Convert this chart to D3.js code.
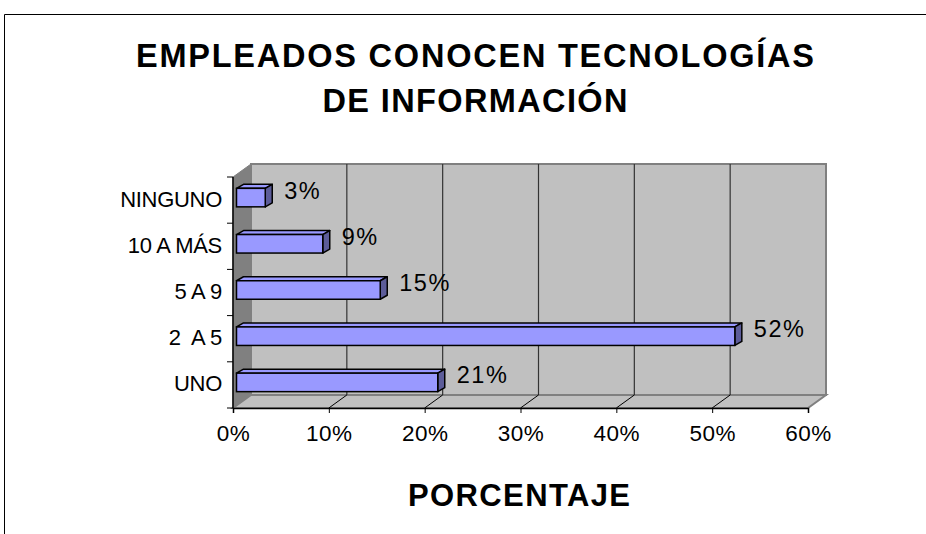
<!DOCTYPE html>
<html>
<head>
<meta charset="utf-8">
<script src="https://cdn.jsdelivr.net/npm/d3@7"></script>
<style>
  body { margin: 0; background: #fff; }
  text { font-family: Arial, "Liberation Sans", sans-serif; fill: #000; }
</style>
</head>
<body>
<svg id="chart" width="926" height="534"></svg>
<script>
'use strict';

// data, bottom to top as in the original sheet
var categories = ["UNO", "2  A 5", "5 A 9", "10 A MÁS", "NINGUNO"];
var values = [21, 52, 15, 9, 3];
var tickValues = [0, 10, 20, 30, 40, 50, 60];
var titleLines = ["EMPLEADOS CONOCEN TECNOLOGÍAS", "DE INFORMACIÓN"];
var axisTitle = "PORCENTAJE";

var svg = d3.select("#chart");

// outer frame (only top and left edges show)
svg.append("path")
  .attr("d", "M4.5,534 V14.5 H926")
  .attr("fill", "none")
  .attr("stroke", "#000")
  .attr("stroke-width", 1);

var x = d3.scaleLinear().domain([0, 60]).range([233, 808]);
var y = d3.scaleBand().domain(categories).range([408, 177]);

var depth = { dx: 18, dy: -13 };
var x0 = x(0), x1 = x(60), yTop = 177, yBot = 408;

var pts = function(arr) {
  return arr.map(function(p) { return p.join(","); }).join(" ");
};

// back wall
svg.append("rect")
  .attr("x", x0 + depth.dx)
  .attr("y", yTop + depth.dy)
  .attr("width", x1 - x0)
  .attr("height", yBot - yTop)
  .attr("fill", "#c0c0c0")
  .attr("stroke", "#808080")
  .attr("stroke-width", 2);

// side wall
svg.append("polygon")
  .attr("points", pts([[x0, yTop], [x0 + depth.dx, yTop + depth.dy],
                       [x0 + depth.dx, yBot + depth.dy], [x0, yBot]]))
  .attr("fill", "#808080")
  .attr("stroke", "#808080");

// floor
svg.append("polygon")
  .attr("points", pts([[x0, yBot], [x0 + depth.dx, yBot + depth.dy],
                       [x1 + depth.dx, yBot + depth.dy], [x1, yBot]]))
  .attr("fill", "#c0c0c0")
  .attr("stroke", "#808080")
  .attr("stroke-width", 2);

// grid lines on the back wall
svg.selectAll(".grid")
  .data(tickValues.slice(1, -1))
.enter().append("line")
  .attr("class", "grid")
  .attr("x1", function(d) { return x(d) + depth.dx; })
  .attr("x2", function(d) { return x(d) + depth.dx; })
  .attr("y1", yTop + depth.dy)
  .attr("y2", yBot + depth.dy)
  .attr("stroke", "#333")
  .attr("stroke-width", 1.2);

// floor diagonals
svg.selectAll(".floorTick")
  .data(tickValues.slice(1, -1))
.enter().append("line")
  .attr("class", "floorTick")
  .attr("x1", function(d) { return x(d); })
  .attr("x2", function(d) { return x(d) + depth.dx; })
  .attr("y1", yBot)
  .attr("y2", yBot + depth.dy)
  .attr("stroke", "#000")
  .attr("stroke-width", 1);

// x axis
var xAxis = d3.axisBottom(x)
  .tickValues(tickValues)
  .tickSize(5)
  .tickPadding(12)
  .tickFormat(function(d) { return d + "%"; });

var gx = svg.append("g")
  .attr("transform", "translate(0," + yBot + ")")
  .call(xAxis);
gx.select(".domain").attr("stroke", "#000").attr("stroke-width", 1.5);
gx.selectAll(".tick line").attr("stroke", "#000");
gx.selectAll(".tick text")
  .attr("font-family", "Arial, 'Liberation Sans', sans-serif")
  .attr("font-size", 22.5)
  .attr("letter-spacing", 0.5)
  .attr("fill", "#000");

// y axis: line plus ticks at band edges
svg.append("line")
  .attr("x1", x0).attr("x2", x0)
  .attr("y1", yTop).attr("y2", yBot)
  .attr("stroke", "#000").attr("stroke-width", 1.5);

var edges = categories.map(function(c) { return y(c); }).concat([yBot]);
svg.selectAll(".yTick")
  .data(edges)
.enter().append("line")
  .attr("class", "yTick")
  .attr("x1", x0 - 6).attr("x2", x0)
  .attr("y1", function(d) { return d; })
  .attr("y2", function(d) { return d; })
  .attr("stroke", "#000");

svg.selectAll(".catLabel")
  .data(categories)
.enter().append("text")
  .attr("class", "catLabel")
  .attr("x", 222)
  .attr("y", function(d) { return y(d) + y.bandwidth() / 2 + 6.5; })
  .attr("text-anchor", "end")
  .attr("font-size", 22)
  .attr("letter-spacing", -0.3)
  .style("white-space", "pre")
  .text(function(d) { return d; });

// 3d bars
var bar = { ox: 3.5, oy: -2.5, h: 18.5, dx: 7, dy: -4 };
var barData = categories.map(function(c, i) { return { cat: c, value: values[i] }; });

var bars = svg.selectAll(".bar")
  .data(barData)
.enter().append("g")
  .attr("class", "bar");

var geom = function(d) {
  var l = x(0) + bar.ox;
  var r = x(d.value) + bar.ox;
  var t = y(d.cat) + y.bandwidth() / 2 + bar.oy - bar.h / 2;
  return { l: l, r: r, t: t, b: t + bar.h };
};

bars.append("polygon")
  .attr("points", function(d) {
    var g = geom(d);
    return pts([[g.l, g.t], [g.l + bar.dx, g.t + bar.dy], [g.r + bar.dx, g.t + bar.dy], [g.r, g.t]]);
  })
  .attr("fill", "#9999ff")
  .attr("stroke", "#000")
  .attr("stroke-width", 1.5)
  .attr("stroke-linejoin", "round");

bars.append("polygon")
  .attr("points", function(d) {
    var g = geom(d);
    return pts([[g.r, g.t], [g.r + bar.dx, g.t + bar.dy], [g.r + bar.dx, g.b + bar.dy], [g.r, g.b]]);
  })
  .attr("fill", "#5c5c99")
  .attr("stroke", "#000")
  .attr("stroke-width", 1.5)
  .attr("stroke-linejoin", "round");

bars.append("rect")
  .attr("x", function(d) { return geom(d).l; })
  .attr("y", function(d) { return geom(d).t; })
  .attr("width", function(d) { var g = geom(d); return g.r - g.l; })
  .attr("height", bar.h)
  .attr("fill", "#9999ff")
  .attr("stroke", "#000")
  .attr("stroke-width", 1.5);

// data labels
svg.selectAll(".valLabel")
  .data(barData)
.enter().append("text")
  .attr("class", "valLabel")
  .attr("x", function(d) { return geom(d).r + 19; })
  .attr("y", function(d) { var g = geom(d); return (g.t + g.b) / 2 + 1; })
  .attr("font-size", 23.5)
  .attr("letter-spacing", 1.5)
  .text(function(d) { return d.value + "%"; });

// titles
var titleWidths = [678, 305];
svg.selectAll(".title")
  .data(titleLines)
.enter().append("text")
  .attr("class", "title")
  .attr("x", 475)
  .attr("y", function(d, i) { return 67 + i * 45; })
  .attr("text-anchor", "middle")
  .attr("font-size", 32.5)
  .attr("font-weight", "bold")
  .attr("textLength", function(d, i) { return titleWidths[i]; })
  .attr("lengthAdjust", "spacing")
  .text(function(d) { return d; });

svg.append("text")
  .attr("x", 519)
  .attr("y", 506)
  .attr("text-anchor", "middle")
  .attr("font-size", 31)
  .attr("font-weight", "bold")
  .attr("textLength", 222)
  .attr("lengthAdjust", "spacing")
  .text(axisTitle);
</script>
</body>
</html>
